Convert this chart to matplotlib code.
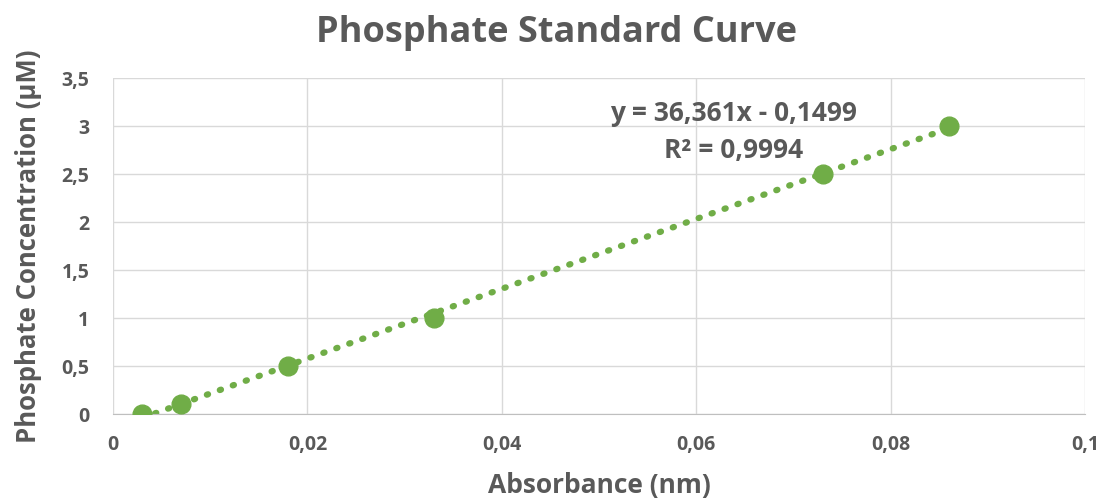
import matplotlib
matplotlib.use('Agg')
import matplotlib.pyplot as plt
import numpy as np

# ----- standard curve data -----
absorbance = [0.003, 0.007, 0.018, 0.033, 0.073, 0.086]
concentration = [0.0, 0.1, 0.5, 1.0, 2.5, 3.0]
slope, intercept = 36.361, -0.1499
eq_text = 'y = 36,361x - 0,1499\nR² = 0,9994'

x_ticks = [0, 0.02, 0.04, 0.06, 0.08, 0.1]
x_ticklabels = ['0', '0,02', '0,04', '0,06', '0,08', '0,1']
y_ticks = [0, 0.5, 1, 1.5, 2, 2.5, 3, 3.5]
y_ticklabels = ['0', '0,5', '1', '1,5', '2', '2,5', '3', '3,5']

green = '#70ad47'
grey = '#595959'
plt.rcParams['font.family'] = ['Open Sans', 'DejaVu Sans']

fig = plt.figure(figsize=(11.09, 5.03), dpi=100)
ax = fig.add_axes([0.1019, 0.1769, 0.8765, 0.668])

# trend line over the range of the data
xs = np.array([min(absorbance), max(absorbance)])
ax.plot(xs, slope * xs + intercept, color=green, lw=4.5, ls=(0, (0.2, 2.0)),
        dash_capstyle='round', zorder=2)
ax.plot(absorbance, concentration, 'o', color=green, ms=13.5, zorder=3)

ax.set_xlim(0, 0.1)
ax.set_ylim(0, 3.5)
ax.set_xticks(x_ticks)
ax.set_xticklabels(x_ticklabels)
ax.set_yticks(y_ticks)
ax.set_yticklabels(y_ticklabels)
ax.tick_params(length=0, labelsize=14, labelcolor=grey)
ax.tick_params(axis='y', pad=17)
ax.tick_params(axis='x', pad=15)
for lab in ax.get_xticklabels() + ax.get_yticklabels():
    lab.set_fontweight('bold')
ax.grid(True, color='#d9d9d9', lw=1)
ax.set_axisbelow(True)
for s in ['top', 'right', 'left']:
    ax.spines[s].set_visible(False)
ax.spines['bottom'].set_color('#bfbfbf')

ax.set_xlabel('Absorbance (nm)', fontsize=19, fontweight='bold', color=grey, labelpad=12)
ax.set_ylabel('Phosphate Concentration (µM)', fontsize=18.5, fontweight='bold', color=grey, labelpad=14)
fig.suptitle('Phosphate Standard Curve', fontsize=26, fontweight='bold', color=grey,
             x=0.502, y=0.935, va='center')

ax.text(0.0638, 2.94, eq_text, ha='center', va='center', fontsize=19,
        fontweight='bold', color=grey, linespacing=1.45)

fig.savefig('out.png', dpi=100)
